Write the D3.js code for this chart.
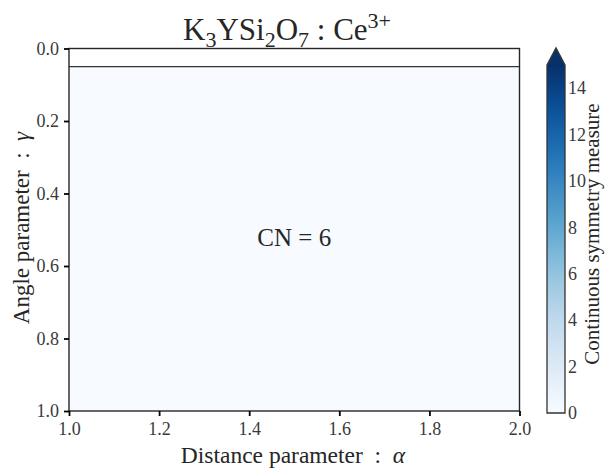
<!DOCTYPE html>
<html>
<head>
<meta charset="utf-8">
<script src="https://cdn.jsdelivr.net/npm/d3@7"></script>
<style>
  body { margin: 0; background: #fff; }
</style>
</head>
<body>
<div id="chart"></div>
<script>
// ---------- data ----------
// region boundaries in (alpha, gamma) space, with the CN found inside
const regionCN = [6];
const regionAlpha = [[1.0, 2.0]];
const regionGamma = [[0.05, 1.0]];
const regionCSM = [0];            // continuous symmetry measure inside the region
const xTicks = [1.0, 1.2, 1.4, 1.6, 1.8, 2.0];
const yTicks = [0.0, 0.2, 0.4, 0.6, 0.8, 1.0];
const cbTicks = [0, 2, 4, 6, 8, 10, 12, 14];
const cbDomain = [0, 15];

const serif = '"Liberation Serif", "Times New Roman", "DejaVu Serif", serif';
const ink = "#262626";

// ---------- svg ----------
const width = 605, height = 468;
const margin = { top: 48.5, right: 86, bottom: 57, left: 69 };
const svg = d3.select("#chart").append("svg")
  .attr("width", width).attr("height", height)
  .attr("font-family", serif);

const x = d3.scaleLinear().domain([1, 2]).range([margin.left, width - margin.right + 0.5]);
const y = d3.scaleLinear().domain([0, 1]).range([margin.top, height - margin.bottom]);
const color = d3.scaleSequential(d3.interpolateBlues).domain(cbDomain);

// regions
regionCN.forEach((cn, i) => {
  const x0 = x(regionAlpha[i][0]), x1 = x(regionAlpha[i][1]);
  const y0 = y(regionGamma[i][0]), y1 = y(regionGamma[i][1]);
  svg.append("rect")
    .attr("x", x0).attr("y", y0)
    .attr("width", x1 - x0).attr("height", y1 - y0)
    .attr("fill", color(regionCSM[i]));
  svg.append("line")
    .attr("x1", x0).attr("x2", x1).attr("y1", y0).attr("y2", y0)
    .attr("stroke", "#333").attr("stroke-width", 1.2);
  svg.append("text")
    .attr("x", x((regionAlpha[i][0] + regionAlpha[i][1]) / 2))
    .attr("y", y(0.53))
    .attr("text-anchor", "middle")
    .attr("dominant-baseline", "middle")
    .style("font-family", serif)
    .style("font-size", "25px")
    .attr("fill", ink)
    .text("CN = " + cn);
});

// frame
svg.append("rect")
  .attr("x", x(1)).attr("y", y(0))
  .attr("width", x(2) - x(1)).attr("height", y(1) - y(0))
  .attr("fill", "none").attr("stroke", ink).attr("stroke-width", 1.4);

// axes
const xAxis = d3.axisBottom(x).tickValues(xTicks).tickFormat(d3.format(".1f"))
  .tickSize(5).tickPadding(6);
const yAxis = d3.axisLeft(y).tickValues(yTicks).tickFormat(d3.format(".1f"))
  .tickSize(5).tickPadding(5);

const gx = svg.append("g").attr("transform", "translate(0," + y(1) + ")").call(xAxis);
const gy = svg.append("g").attr("transform", "translate(" + x(1) + ",0)").call(yAxis);
[gx, gy].forEach(g => {
  g.attr("font-family", serif);
  g.select(".domain").remove();
  g.selectAll(".tick line").attr("stroke", "#000").attr("stroke-width", 1.8);
  g.selectAll(".tick text")
    .style("font-family", serif)
    .style("font-size", "18px").attr("fill", "#3a3a3a");
});

// labels
svg.append("text")
  .attr("x", 293).attr("y", 463)
  .attr("text-anchor", "middle")
  .style("font-family", serif)
  .style("font-size", "23.5px")
  .attr("fill", ink)
  .html('Distance parameter &#160;:&#160; <tspan font-style="italic">α</tspan>');

svg.append("text")
  .attr("transform", "translate(29," + 228 + ") rotate(-90)")
  .attr("text-anchor", "middle")
  .style("font-family", serif)
  .style("font-size", "23px")
  .attr("fill", ink)
  .html('Angle parameter &#160;:&#160; <tspan font-style="italic">γ</tspan>');

// title
const title = svg.append("text")
  .attr("x", 287).attr("y", 40)
  .attr("text-anchor", "middle")
  .style("font-family", serif)
  .style("font-size", "31px")
  .attr("fill", ink);
title.append("tspan").text("K");
title.append("tspan").attr("dy", 7).style("font-size", "22px").text("3");
title.append("tspan").attr("dy", -7).text("YSi");
title.append("tspan").attr("dy", 7).style("font-size", "22px").text("2");
title.append("tspan").attr("dy", -7).text("O");
title.append("tspan").attr("dy", 7).style("font-size", "22px").text("7");
title.append("tspan").attr("dy", -7).text(" : Ce");
title.append("tspan").attr("dy", -12).style("font-size", "22px").text("3+");

// ---------- colorbar ----------
const cbX = 547, cbW = 18;
const cbY = d3.scaleLinear().domain(cbDomain).range([413, 65]);

const defs = svg.append("defs");
const grad = defs.append("linearGradient").attr("id", "cbgrad")
  .attr("x1", 0).attr("x2", 0).attr("y1", 1).attr("y2", 0);
d3.range(0, 1.0001, 0.05).forEach(t => {
  grad.append("stop").attr("offset", t).attr("stop-color", color(cbDomain[0] + t * (cbDomain[1] - cbDomain[0])));
});

svg.append("rect")
  .attr("x", cbX).attr("y", cbY(cbDomain[1]))
  .attr("width", cbW).attr("height", cbY(cbDomain[0]) - cbY(cbDomain[1]))
  .attr("fill", "url(#cbgrad)");
// extend triangle
svg.append("path")
  .attr("d", `M${cbX},${cbY(cbDomain[1]) + 0.5} L${cbX + cbW / 2},${cbY(cbDomain[1]) - 17} L${cbX + cbW},${cbY(cbDomain[1]) + 0.5} Z`)
  .attr("fill", d3.interpolateBlues(1));
// outline
svg.append("path")
  .attr("d", `M${cbX},${cbY(cbDomain[0])} L${cbX},${cbY(cbDomain[1])} L${cbX + cbW / 2},${cbY(cbDomain[1]) - 17} L${cbX + cbW},${cbY(cbDomain[1])} L${cbX + cbW},${cbY(cbDomain[0])} Z`)
  .attr("fill", "none").attr("stroke", "#333").attr("stroke-width", 1.3);

const cbAxis = d3.axisRight(cbY).tickValues(cbTicks).tickFormat(d3.format("d"))
  .tickSize(0).tickPadding(3);
const gcb = svg.append("g").attr("transform", "translate(" + (cbX + cbW) + ",0)").call(cbAxis);
gcb.attr("font-family", serif);
gcb.select(".domain").remove();
gcb.selectAll(".tick text")
  .style("font-family", serif)
  .style("font-size", "18px").attr("fill", "#3a3a3a");

svg.append("text")
  .attr("transform", "translate(599," + 234 + ") rotate(-90)")
  .attr("text-anchor", "middle")
  .style("font-family", serif)
  .style("font-size", "21px")
  .attr("fill", ink)
  .text("Continuous symmetry measure");
</script>
</body>
</html>
